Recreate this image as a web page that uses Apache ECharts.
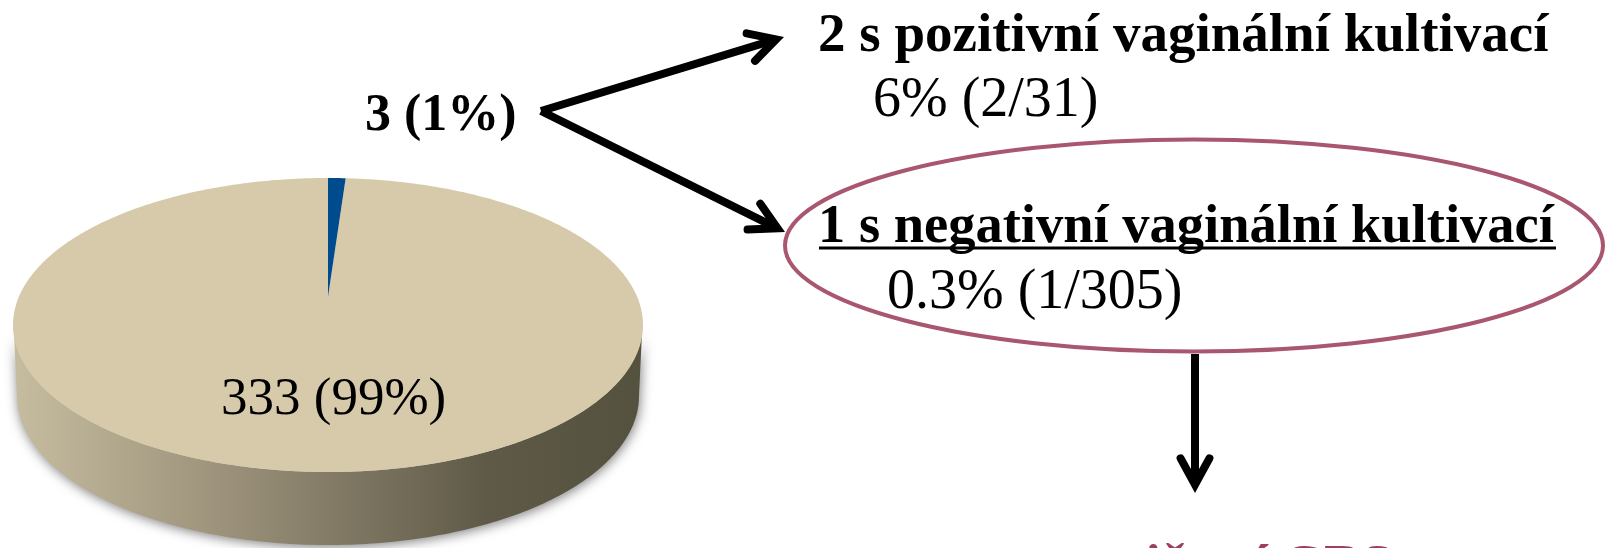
<!DOCTYPE html>
<html><head><meta charset="utf-8">
<style>html,body{margin:0;padding:0;background:#fff}#c{width:1614px;height:548px}</style>
<script src="https://cdn.jsdelivr.net/npm/echarts@6/dist/echarts.min.js"></script>
</head><body><div id="c"></div>
<script>
const categories = ['3 (1%)', '333 (99%)'];
const sliceValues = [3, 333];
const sliceColors = ['#004a8e', '#d6caaa'];

const topCx = 328, topCy = 325, topRx = 315, topRy = 147;
const apexY = 297;
const wallCy = 396, wallRx = 311, wallRy = 149;
const serif = '"Liberation Serif", serif';
const plum = '#a9566f';

const chart = echarts.init(document.getElementById('c'), null, {renderer: 'canvas'});
const total = sliceValues.reduce((a, b) => a + b, 0);

function renderSlice(params, api) {
  const i = params.dataIndex;
  const start = sliceValues.slice(0, i).reduce((a, b) => a + b, 0) / total * Math.PI * 2;
  const end = start + api.value(1) / total * Math.PI * 2;
  const pts = [];
  const steps = Math.max(2, Math.ceil((end - start) / 0.01));
  for (let k = 0; k <= steps; k++) {
    const a = start + (end - start) * k / steps;
    pts.push(api.coord([topCx + topRx * Math.sin(a), topCy - topRy * Math.cos(a)]));
  }
  pts.push(api.coord([topCx, apexY]));
  return {type: 'polygon', shape: {points: pts}, style: {fill: sliceColors[i]}, z2: i === 0 ? 3 : 2};
}

function renderWall(params, api) {
  const pts = [];
  for (let k = 0; k <= 180; k++) {
    const a = Math.PI * k / 180;
    pts.push(api.coord([topCx + topRx * 0.998 * Math.cos(a), topCy + topRy * Math.sin(a)]));
  }
  for (let k = 180; k >= 0; k--) {
    const a = Math.PI * k / 180;
    pts.push(api.coord([topCx + wallRx * Math.cos(a), wallCy + wallRy * Math.sin(a)]));
  }
  return {type: 'polygon', shape: {points: pts}, z2: 1, style: {
    fill: new echarts.graphic.LinearGradient(0, 0, 1, 0, [
      {offset: 0, color: '#c6bc9f'}, {offset: 0.35, color: '#9a9079'},
      {offset: 0.75, color: '#5f5a48'}, {offset: 1, color: '#55513f'}]),
    shadowBlur: 12, shadowColor: 'rgba(0,0,0,0.5)', shadowOffsetX: 1, shadowOffsetY: 2
  }};
}

function arrow(x1, y1, tipX, tipY) {
  const w = 8, head = 30, s = 0.5;
  const ang = Math.atan2(tipY - y1, tipX - x1);
  const back = (w / 2) / Math.sin(s);
  const x2 = tipX - back * Math.cos(ang), y2 = tipY - back * Math.sin(ang);
  const p = d => [x2 - head * Math.cos(ang + d), y2 - head * Math.sin(ang + d)];
  return [
    {type: 'line', z: 100, shape: {x1, y1, x2, y2}, style: {stroke: '#000', lineWidth: w}},
    {type: 'polyline', z: 100, shape: {points: [p(s), [x2, y2], p(-s)]},
     style: {stroke: '#000', lineWidth: w, lineCap: 'round', lineJoin: 'miter', miterLimit: 10, fill: 'none'}}
  ];
}

function txt(text, x, baseline, size, bold, color) {
  return {type: 'text', z: 100, x, y: baseline, style: {text, fontFamily: serif, fontSize: size,
    fontWeight: bold ? 'bold' : 'normal', fill: color || '#000', verticalAlign: 'bottom',
    lineHeight: size, padding: [0, 0, -Math.round(size * 0.2), 0]}};
}

chart.setOption({
  animation: false,
  backgroundColor: '#fff',
  grid: {left: 0, right: 0, top: 0, bottom: 0},
  xAxis: {type: 'value', min: 0, max: 1614, show: false},
  yAxis: {type: 'value', min: 0, max: 548, inverse: true, show: false},
  series: [
    {type: 'custom', clip: false, renderItem: renderWall, data: [[0, 1]], z: 1, silent: true},
    {type: 'custom', clip: false, renderItem: renderSlice, z: 2, silent: true,
     data: sliceValues.map((v, i) => ({name: categories[i], value: [i, v]}))}
  ],
  graphic: {elements: [
    ...arrow(541, 111, 784, 37),
    ...arrow(541, 111, 785, 232),
    ...arrow(1195, 354, 1195, 493),
    {type: 'ellipse', z: 100, shape: {cx: 1194, cy: 245.5, rx: 409, ry: 106},
     style: {fill: 'none', stroke: plum, lineWidth: 4}},
    txt('3 (1%)', 365, 133, 52, true),
    txt('2 s pozitivní vaginální kultivací', 818, 53, 55, true),
    txt('6% (2/31)', 873, 118, 56, false),
    txt('1 s negativní vaginální kultivací', 818, 244, 54.5, true),
    {type: 'line', z: 100, shape: {x1: 819, y1: 248, x2: 1556, y2: 248}, style: {stroke: '#000', lineWidth: 3}},
    txt('0.3% (1/305)', 887, 310, 56, false),
    txt('333 (99%)', 221, 416, 53, false),
    txt('nosičství GBS', 1066, 584, 55, true, '#9e3f62')
  ]}
});
</script></body></html>
